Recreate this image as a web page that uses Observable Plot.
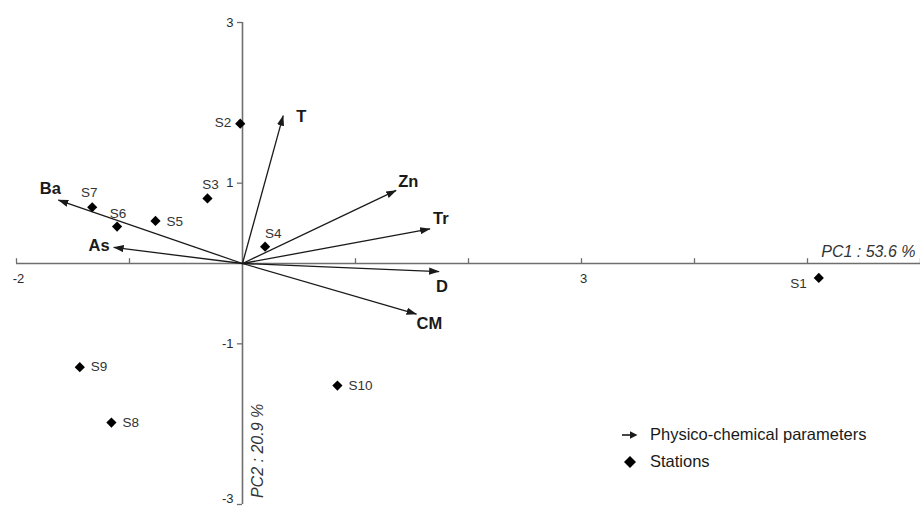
<!DOCTYPE html>
<html><head><meta charset="utf-8">
<script src="https://cdn.jsdelivr.net/npm/d3@7"></script>
<script src="https://cdn.jsdelivr.net/npm/@observablehq/plot@0.6"></script>
<style>
body{margin:0;background:#fff;}
#chart{position:relative;width:920px;height:507px;font-family:Arial,"Liberation Sans",sans-serif;}
#chart svg{overflow:visible;}
.legend{position:absolute;left:622px;top:421px;font-size:16.5px;color:#1a1a1a;line-height:27px;}
.legend div{display:flex;align-items:center;}
.legend svg{margin-right:12px;}
</style></head><body><div id="chart"></div>
<script>
// Stations (scores)
const stationNames = ["S1","S2","S3","S4","S5","S6","S7","S8","S9","S10"];
const stationPC1 = [5.10,-0.02,-0.31,0.20,-0.77,-1.11,-1.33,-1.16,-1.44,0.84];
const stationPC2 = [-0.18,1.74,0.81,0.21,0.53,0.46,0.70,-1.98,-1.29,-1.52];
// Physico-chemical parameters (loadings)
const paramNames = ["T","Zn","Tr","Ba","As","D","CM"];
const paramPC1 = [0.36,1.36,1.66,-1.63,-1.14,1.74,1.54];
const paramPC2 = [1.84,0.91,0.43,0.79,0.20,-0.10,-0.63];
// Axis ticks
const xTicks = [-2,-1,1,2,3,4,5,6];
const xTickLabels = [-2,3];
const yTicks = [-3,-1,1,3];
const yTickLabels = [-3,-1,1,3];
const xAxisTitle = "PC1 : 53.6 %";
const yAxisTitle = "PC2 : 20.9 %";

// label placement (style only)
const stationLabelPos = {
  S1:{a:"end",dx:-12,dy:6}, S2:{a:"end",dx:-9,dy:-1}, S3:{a:"middle",dx:3,dy:-14},
  S4:{a:"start",dx:0,dy:-13}, S5:{a:"start",dx:11,dy:1}, S6:{a:"middle",dx:1,dy:-13},
  S7:{a:"middle",dx:-3,dy:-15}, S8:{a:"start",dx:11,dy:0}, S9:{a:"start",dx:11,dy:0},
  S10:{a:"start",dx:11,dy:0}
};
const paramLabelPos = {
  T:{a:"start",dx:13,dy:1}, Zn:{a:"start",dx:2,dy:-9}, Tr:{a:"start",dx:3,dy:-10},
  Ba:{a:"middle",dx:-8,dy:-11}, As:{a:"end",dx:-4,dy:-2}, D:{a:"start",dx:-3,dy:15},
  CM:{a:"start",dx:0,dy:10}
};

const stations = stationNames.map((n,i)=>({name:n,x:stationPC1[i],y:stationPC2[i],...stationLabelPos[n]}));
const params = paramNames.map((n,i)=>({name:n,x:paramPC1[i],y:paramPC2[i],...paramLabelPos[n]}));

const ink = "#1a1a1a";
const axisColor = "#6e6e6e";

function headMarker(color, context){
  const doc = (context && context.document) || document;
  const ns = "http://www.w3.org/2000/svg";
  const m = doc.createElementNS(ns,"marker");
  m.setAttribute("viewBox","-10 -5 11 10");
  m.setAttribute("markerWidth","11");
  m.setAttribute("markerHeight","10");
  m.setAttribute("markerUnits","userSpaceOnUse");
  m.setAttribute("refX","0");
  m.setAttribute("refY","0");
  m.setAttribute("orient","auto");
  const p = doc.createElementNS(ns,"path");
  p.setAttribute("d","M-10,-3.6L0.5,0L-10,3.6Z");
  p.setAttribute("fill",color);
  p.setAttribute("stroke","none");
  m.appendChild(p);
  return m;
}

function labelMarks(data, opts){
  // one text mark per item to apply individual offsets
  return data.map(d => Plot.text([d], {x:"x", y:"y", text:"name", textAnchor:d.a, dx:d.dx, dy:d.dy, ...opts}));
}

const lowest = Math.min(...yTickLabels);

const plot = Plot.plot({
  width: 920,
  height: 507,
  marginLeft: 16,
  marginRight: 0,
  marginTop: 22,
  marginBottom: 3,
  x: {domain:[-2,6], axis:null},
  y: {domain:[-3,3], axis:null},
  style: {fontFamily: "Arial, 'Liberation Sans', sans-serif", background:"#fff"},
  marks: [
    Plot.ruleY([0], {x1:-2, x2:6, stroke:axisColor, strokeWidth:1.6}),
    Plot.ruleX([0], {y1:-3, y2:3, stroke:axisColor, strokeWidth:1.6}),
    Plot.ruleX(xTicks, {x:d=>d, y1:0, y2:0.06, stroke:axisColor, strokeWidth:1.3}),
    Plot.ruleY(yTicks, {y:d=>d, x1:-0.045, x2:0, stroke:axisColor, strokeWidth:1.3}),
    Plot.text(xTickLabels, {x:d=>d, y:0, text:d=>String(d), dy:15, dx:2, fontSize:13, fill:"#2a2a2a"}),
    Plot.text(yTickLabels.filter(d=>d!==lowest), {x:0, y:d=>d, text:d=>String(d), dx:-9, textAnchor:"end", fontSize:13, fill:"#2a2a2a"}),
    Plot.text(yTickLabels.filter(d=>d===lowest), {x:0, y:d=>d, text:d=>String(d), dx:-9, textAnchor:"end", lineAnchor:"bottom", dy:-2, fontSize:13, fill:"#2a2a2a"}),
    Plot.text([xAxisTitle], {x:6, y:0, text:d=>d, textAnchor:"end", dx:-5, dy:-12, fontSize:16, fontStyle:"italic", fill:"#333"}),
    Plot.text([yAxisTitle], {x:0, y:-2.92, text:d=>d, textAnchor:"start", rotate:-90, dx:15, fontSize:16, fontStyle:"italic", fill:"#333"}),
    Plot.link(params, {x1:0, y1:0, x2:"x", y2:"y", stroke:ink, strokeWidth:1.3, markerEnd: headMarker}),
    Plot.dot(stations, {x:"x", y:"y", symbol:"diamond2", r:4.6, fill:"#000", stroke:"none"}),
    ...labelMarks(params, {fontSize:16.5, fontWeight:"bold", fill:ink}),
    ...labelMarks(stations, {fontSize:13.5, fill:"#333"})
  ]
});
document.getElementById("chart").appendChild(plot);

const legend = document.createElement("div");
legend.className = "legend";
legend.innerHTML = `
<div><svg width="16" height="10" viewBox="0 0 16 10"><line x1="0" y1="5" x2="9" y2="5" stroke="${ink}" stroke-width="1.6"/><path d="M8,1.2L15.5,5L8,8.8Z" fill="${ink}"/></svg><span>Physico-chemical parameters</span></div>
<div><svg width="16" height="14" viewBox="0 0 16 14"><path d="M8,1L14,7L8,13L2,7Z" fill="#000"/></svg><span>Stations</span></div>`;
document.getElementById("chart").appendChild(legend);
</script>
</body></html>
